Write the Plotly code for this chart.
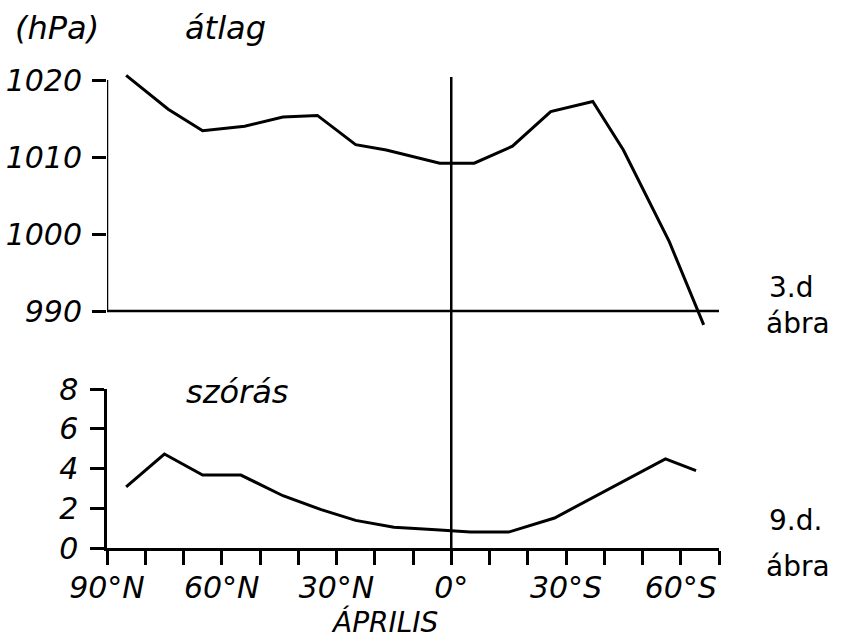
import plotly.graph_objects as go

# ---- data ----
lat_mean = [-85, -74, -65, -54, -44, -35, -25, -17, -3, 6, 16, 26, 37, 45, 57, 66]
mean_hpa = [1020.6, 1016.2, 1013.4, 1014.0, 1015.2, 1015.4, 1011.6, 1010.9, 1009.2,
            1009.2, 1011.4, 1015.9, 1017.2, 1010.9, 999.0, 988.2]

lat_sd = [-85, -75, -65, -55, -44, -34, -25, -15, -4, 5, 15, 27, 56, 64]
sd_hpa = [3.07, 4.73, 3.67, 3.67, 2.63, 1.93, 1.39, 1.04, 0.92, 0.8, 0.8, 1.51, 4.48, 3.89]

x_tickvals = list(range(-90, 71, 10))
x_ticklabels = {-90: "90°N", -60: "60°N", -30: "30°N", 0: "0°", 30: "30°S", 60: "60°S"}
x_ticktext = [x_ticklabels.get(v, "") for v in x_tickvals]
mean_ticks = [990, 1000, 1010, 1020]
sd_ticks = [0, 2, 4, 6, 8]

# ---- layout geometry (pixels) ----
W, H = 845, 644
L, R, T, B = 107, 126, 60, 96
PW, PH = W - L - R, H - T - B


def px(x):
    return (x - L) / PW


def py(y):
    return (H - B - y) / PH


FONT = "DejaVu Sans"
ital = dict(family=FONT, size=30, color="black", style="italic")
ital_big = dict(family=FONT, size=32, color="black", style="italic")
ital_small = dict(family=FONT, size=28, color="black", style="italic")
hand = dict(family=FONT, size=28, color="black")

fig = go.Figure()
fig.add_trace(go.Scatter(x=lat_mean, y=mean_hpa, mode="lines",
                         line=dict(color="black", width=3),
                         xaxis="x2", yaxis="y2", showlegend=False))
fig.add_trace(go.Scatter(x=lat_sd, y=sd_hpa, mode="lines",
                         line=dict(color="black", width=3),
                         xaxis="x", yaxis="y", showlegend=False))

top_lo, top_hi = 987.0, 1021.5
pix_per = 7.7
top_dom = [py(311 + (990 - top_lo) * pix_per), py(80 - (top_hi - 1020) * pix_per)]

axis_common = dict(ticks="outside", ticklen=14, tickwidth=2.5, tickcolor="black",
                   showgrid=False, zeroline=False, linecolor="black", linewidth=2.5,
                   automargin=False)

fig.update_layout(
    width=W, height=H,
    margin=dict(l=L, r=R, t=T, b=B, autoexpand=False),
    paper_bgcolor="white", plot_bgcolor="white",
    xaxis=dict(domain=[0, 1], range=[-90, 70], anchor="y",
               tickvals=x_tickvals, ticktext=x_ticktext, tickfont=ital,
               showline=True, ticklabelstandoff=-3, **axis_common),
    yaxis=dict(domain=[0, py(389)], range=[0, 8], anchor="x",
               tickvals=sd_ticks, tickfont=ital, showline=True,
               ticklabelstandoff=6, **axis_common),
    xaxis2=dict(domain=[0, 1], range=[-90, 70], anchor="y2", matches="x",
                visible=False),
    yaxis2=dict(domain=top_dom, range=[top_lo, top_hi], anchor="x2",
                tickvals=mean_ticks, tickfont=ital, showline=False,
                ticklabelstandoff=4, **axis_common),
)

line = dict(color="black", width=2.5)
# top panel axis lines
fig.add_shape(type="line", xref="x2", yref="y2", x0=-90, x1=-90, y0=990, y1=1020, line=line)
fig.add_shape(type="line", xref="x2", yref="y2", x0=-90, x1=70.8, y0=990, y1=990, line=line)
# equator line through both panels
fig.add_shape(type="line", xref="x", yref="paper", x0=0, x1=0, y0=0, y1=py(77), line=line)

ann = [
    ("(hPa)", 57, 28, ital_big),
    ("átlag", 225, 28, ital_big),
    ("szórás", 237, 392, ital_big),
    ("ÁPRILIS", 384, 622, ital_small),
    ("3.d", 791, 287, hand),
    ("ábra", 798, 323, hand),
    ("9.d.", 795, 520, hand),
    ("ábra", 798, 566, hand),
]
for text, x, y, f in ann:
    fig.add_annotation(text=text, x=px(x), y=py(y), xref="paper", yref="paper",
                       showarrow=False, font=f, xanchor="center", yanchor="middle")

fig.write_html("out.html")
